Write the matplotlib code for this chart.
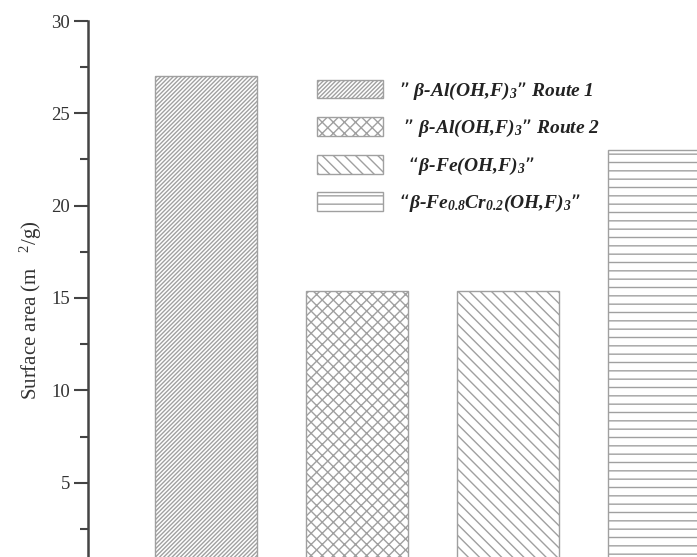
import matplotlib
matplotlib.use("Agg")
import matplotlib.pyplot as plt
from matplotlib.ticker import MultipleLocator

plt.rcParams['font.family'] = ['Liberation Serif', 'DejaVu Serif']
plt.rcParams['mathtext.default'] = 'regular'
plt.rcParams['hatch.linewidth'] = 1.0

labels = ['\u201d \u03b2-Al(OH,F)$_3$\u201d Route 1',
          ' \u201d \u03b2-Al(OH,F)$_3$\u201d Route 2',
          '  \u201c\u03b2-Fe(OH,F)$_3$\u201d',
          '\u201c\u03b2-Fe$_{0.8}$Cr$_{0.2}$(OH,F)$_3$\u201d']
values = [27.0, 15.4, 15.4, 23.0]
hatches = ['////////', 'xxx', '\\\\\\', '--']
positions = [1, 2, 3, 4]
yticks = [5, 10, 15, 20, 25, 30]

W, H = 697, 557
fig = plt.figure(figsize=(W / 100, H / 100), dpi=100)
ax = fig.add_axes([88 / W, (H - 575) / H, (749 - 88) / W, 554 / H])

for p, v, h, lab in zip(positions, values, hatches, labels):
    ax.bar(p, v, width=0.675, facecolor='white', edgecolor='#a0a0a0',
           hatch=h, linewidth=1.0, label=lab)

ax.set_xlim(0.219, 4.596)
ax.set_ylim(0, 30)
ax.set_yticks(yticks)
ax.yaxis.set_minor_locator(MultipleLocator(2.5))
ax.set_xticks([])
for s in ['top', 'right', 'bottom']:
    ax.spines[s].set_visible(False)
ax.spines['left'].set_linewidth(1.8)
ax.spines['left'].set_color('#444444')
ax.tick_params(axis='y', which='major', length=10, width=1.5, color='#444444',
               labelsize=13.5, labelcolor='#333333', pad=3)
ax.tick_params(axis='y', which='minor', length=6, width=1.5, color='#444444')
ax.set_ylabel('Surface area (m   $^{2}$/g)', fontsize=15, color='#333333')
ax.yaxis.set_label_coords(-0.066, (575 - 310) / 554)

leg = ax.legend(loc='upper left', bbox_to_anchor=(307 / W, (H - 70) / H),
                bbox_transform=fig.transFigure, frameon=False, borderpad=0,
                handlelength=3.4, handleheight=1.1, labelspacing=0.8,
                handletextpad=0.85,
                prop={'family': 'Liberation Serif', 'style': 'italic',
                      'weight': 'bold', 'size': 14})
for t in leg.get_texts():
    t.set_color('#222222')

fig.savefig('out.png', dpi=100)
